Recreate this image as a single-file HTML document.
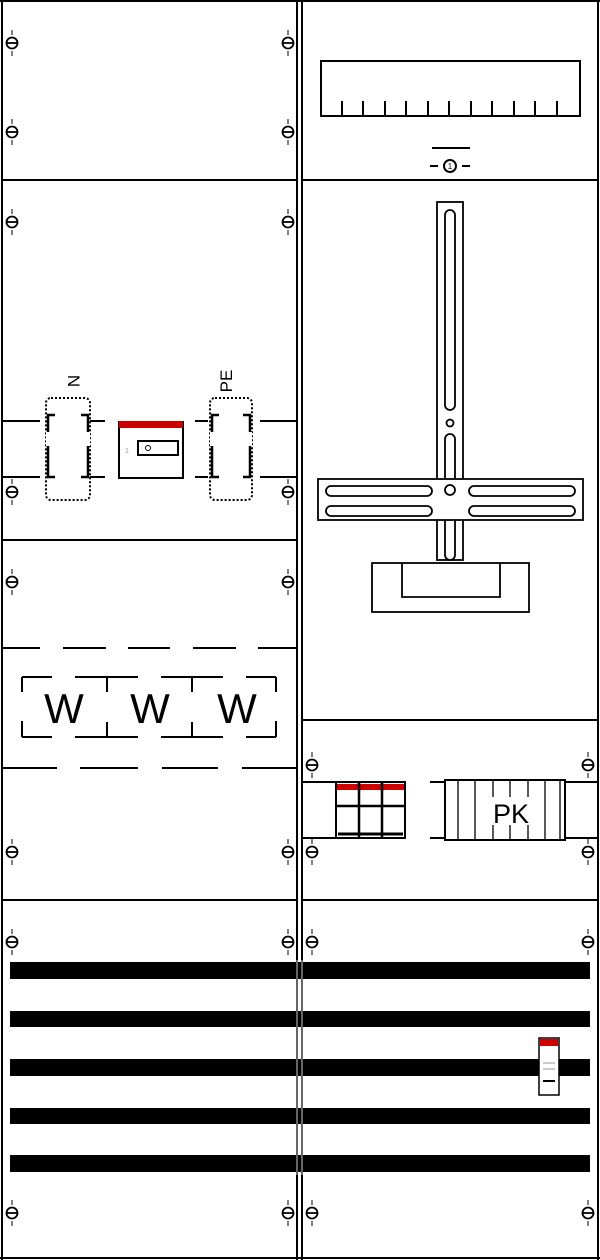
<!DOCTYPE html>
<html><head><style>html,body{margin:0;padding:0;background:#fff}svg{display:block}</style></head>
<body>
<svg width="600" height="1260" viewBox="0 0 600 1260" xmlns="http://www.w3.org/2000/svg" font-family="Liberation Sans, sans-serif">
<defs>
<g id="s"><circle cx="0" cy="0" r="5.5" fill="#fff" stroke="#000" stroke-width="1.8"/><line x1="-5" y1="0" x2="5" y2="0" stroke="#000" stroke-width="1.8"/><line x1="0" y1="-13" x2="0" y2="-8" stroke="#555" stroke-width="1.5"/><line x1="0" y1="8" x2="0" y2="13" stroke="#555" stroke-width="1.5"/></g>
</defs>
<g fill="none" stroke="#000" stroke-width="2">
<!-- frame -->
<line x1="2" y1="0" x2="2" y2="1260"/>
<line x1="598" y1="0" x2="598" y2="1260"/>
<line x1="297" y1="0" x2="297" y2="1260"/>
<line x1="302" y1="0" x2="302" y2="1260"/>
<line x1="0" y1="1" x2="600" y2="1"/>
<line x1="0" y1="1258" x2="600" y2="1258"/>
<line x1="2" y1="180" x2="297" y2="180"/>
<line x1="302" y1="180" x2="598" y2="180"/>
<line x1="2" y1="540" x2="297" y2="540"/>
<line x1="302" y1="720" x2="598" y2="720"/>
<line x1="2" y1="900" x2="297" y2="900"/>
<line x1="302" y1="900" x2="598" y2="900"/>
</g>
<!-- screws -->
<use href="#s" x="12" y="43"/><use href="#s" x="288" y="43"/>
<use href="#s" x="12" y="132"/><use href="#s" x="288" y="132"/>
<use href="#s" x="12" y="222"/><use href="#s" x="288" y="222"/>
<use href="#s" x="12" y="492"/><use href="#s" x="288" y="492"/>
<use href="#s" x="12" y="582"/><use href="#s" x="288" y="582"/>
<use href="#s" x="12" y="852"/><use href="#s" x="288" y="852"/>
<use href="#s" x="12" y="942"/><use href="#s" x="288" y="942"/>
<use href="#s" x="12" y="1213"/><use href="#s" x="288" y="1213"/>
<use href="#s" x="312" y="765"/><use href="#s" x="588" y="765"/>
<use href="#s" x="312" y="852"/><use href="#s" x="588" y="852"/>
<use href="#s" x="312" y="942"/><use href="#s" x="588" y="942"/>
<use href="#s" x="312" y="1213"/><use href="#s" x="588" y="1213"/>

<!-- right top meter -->
<g fill="none" stroke="#000" stroke-width="2">
<rect x="321" y="61" width="259" height="55"/>
<path d="M342 101v15M363 101v15M385 101v15M406 101v15M428 101v15M449 101v15M471 101v15M492 101v15M514 101v15M535 101v15M557 101v15"/>
<line x1="432" y1="148" x2="470" y2="148"/>
<circle cx="450" cy="166" r="6"/>
<line x1="430" y1="166" x2="438" y2="166"/><line x1="462" y1="166" x2="470" y2="166"/>
</g>
<text x="450" y="169" font-size="8" text-anchor="middle">1</text>

<!-- T rail -->
<g fill="#fff" stroke="#000" stroke-width="1.8">
<rect x="437" y="202" width="26" height="358"/>
<rect x="445" y="210" width="10" height="200" rx="5"/>
<circle cx="450" cy="423" r="3.5"/>
<rect x="445" y="434" width="10" height="48" rx="5"/>
<rect x="445" y="515" width="10" height="45" rx="5"/>
<rect x="318" y="479" width="265" height="41"/>
<rect x="326" y="486" width="106" height="10" rx="5"/>
<rect x="326" y="506" width="106" height="10" rx="5"/>
<rect x="469" y="486" width="106" height="10" rx="5"/>
<rect x="469" y="506" width="106" height="10" rx="5"/>
<circle cx="450" cy="490" r="5"/>
<rect x="372" y="563" width="157" height="49"/>
<path d="M402 563v34h98v-34" fill="none"/>
</g>

<!-- N / PE area -->
<g fill="none" stroke="#000" stroke-width="2">
<path d="M2 421h38M2 477h38M90 421h15M90 477h15M195 421h13M195 477h13M260 421h37M260 477h37"/>
<rect x="46" y="398" width="44" height="102" rx="5" stroke-dasharray="2,2"/>
<rect x="210" y="398" width="42" height="102" rx="5" stroke-dasharray="2,2"/>
<path d="M55 415h-7v62h7M81 415h7v62h-7" stroke-width="2.5"/>
<path d="M219 415h-7v62h7M243 415h7v62h-7" stroke-width="2.5"/>
<path d="M48 432v14M88 432v14M212 432v14M250 432v14" stroke="#fff" stroke-width="4"/>
<rect x="119" y="422" width="64" height="56"/>
<rect x="138" y="441" width="40" height="14"/>
</g>
<rect x="119" y="421" width="64" height="7" fill="#c00"/>
<circle cx="148" cy="448" r="2.5" fill="none" stroke="#000"/>
<text x="125" y="453" font-size="7" fill="#999">1</text>
<text x="68" y="381" font-size="17" text-anchor="middle" transform="rotate(90 68 381)">N</text>
<text x="232" y="381" font-size="17" text-anchor="middle" transform="rotate(-90 232 381)">PE</text>

<!-- W area -->
<g fill="none" stroke="#000" stroke-width="2">
<path d="M2 648h38M63 648h43M128 648h42M193 648h43M258 648h39M297 648v120M2 648v120"/>
<path d="M2 768h55M80 768h58M162 768h56M242 768h55"/>
<path d="M22 677v15M22 721v16M276 677v15M276 721v16"/>
<path d="M22 677h30M75 677h63M161 677h62M246 677h30"/>
<path d="M22 737h30M75 737h63M161 737h62M246 737h30"/>
<path d="M107 677v15M107 722v15M192 677v15M192 722v15"/>
</g>
<g font-size="42" text-anchor="middle"><text x="64" y="723">W</text><text x="150" y="723">W</text><text x="237" y="723">W</text></g>

<!-- breakers & PK -->
<g fill="none" stroke="#000" stroke-width="2">
<path d="M302 782h34M302 838h34M430 782h15M430 838h15M565 782h33M565 838h33"/>
<rect x="336" y="782" width="69" height="56"/>
<path d="M359 782v56M382 782v56M336 806h69" stroke-width="2.5"/>
<path d="M338 834h65" stroke-width="3"/>
<rect x="445" y="780" width="120" height="60"/>
<path d="M458 780v60M475 780v60M493 780v60M510 780v60M528 780v60M545 780v60M560 780v60" stroke-width="1.3"/>
</g>
<rect x="337" y="784" width="67" height="6" fill="#c00"/>
<path d="M359 783v8M382 783v8" stroke="#000" stroke-width="2.5"/>
<rect x="488" y="797" width="46" height="28" fill="#fff"/>
<text x="511" y="823" font-size="27" text-anchor="middle">PK</text>

<!-- busbars -->
<g fill="#000">
<rect x="10" y="962" width="580" height="17"/>
<rect x="10" y="1011" width="580" height="16"/>
<rect x="10" y="1059" width="580" height="17"/>
<rect x="10" y="1108" width="580" height="16"/>
<rect x="10" y="1155" width="580" height="17"/>
</g>
<line x1="297" y1="960" x2="297" y2="1175" stroke="#fff" stroke-width="0.8"/>
<line x1="302" y1="960" x2="302" y2="1175" stroke="#fff" stroke-width="0.8"/>
<rect x="539" y="1038" width="20" height="57" fill="#fff" stroke="#000" stroke-width="1.5"/>
<rect x="540" y="1039" width="18" height="7" fill="#c00"/>
<path d="M543 1063h12M543 1069h12" stroke="#999" stroke-width="1"/>
<path d="M543 1081h12" stroke="#000" stroke-width="2"/>
</svg>
</body></html>
